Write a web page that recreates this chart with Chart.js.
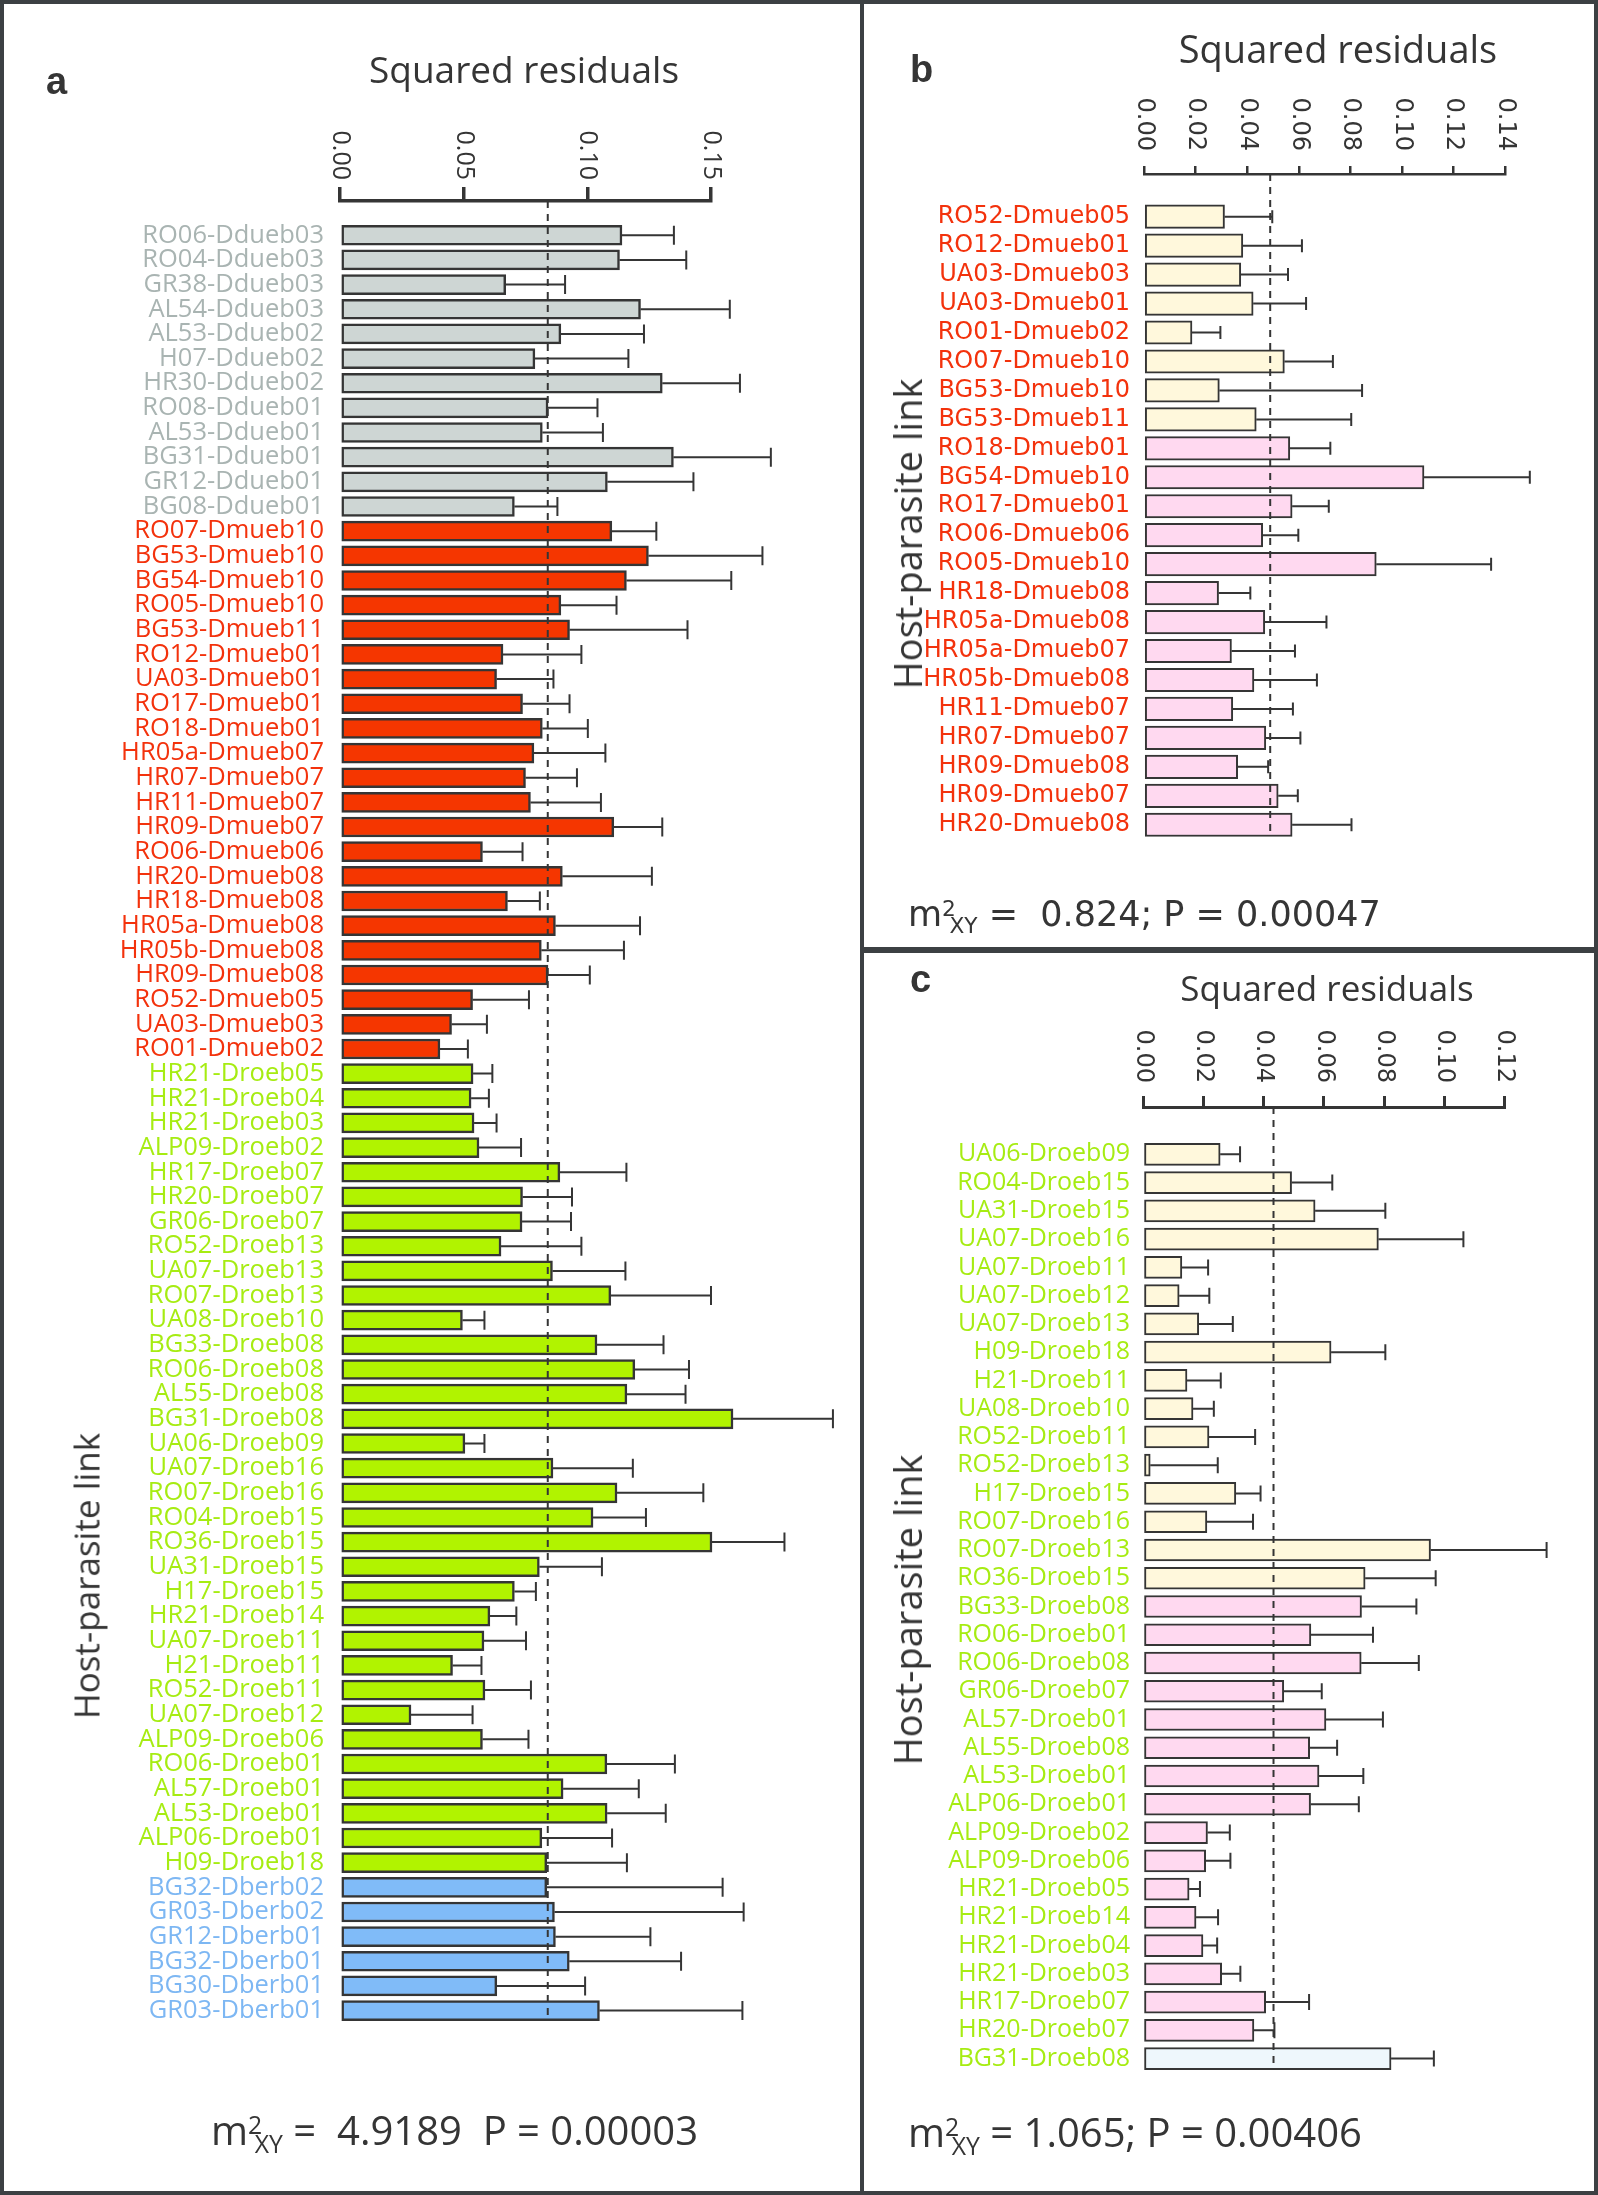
<!DOCTYPE html>
<html>
<head>
<meta charset="utf-8">
<script src="https://cdn.jsdelivr.net/npm/chart.js@4.4.0/dist/chart.umd.min.js"></script>
<style>
body { margin: 0; background: #fff; }
#fig { position: relative; width: 1598px; height: 2195px; background: #fff; overflow: hidden; font-family: 'Open Sans', sans-serif; color: #353535; }
canvas { position: absolute; }
.line { position: absolute; background: #3c4043; }
.txt { position: absolute; white-space: nowrap; line-height: 1; }
.sup { position: relative; top: -0.45em; font-size: 0.62em; }
.sub { position: relative; top: 0.32em; font-size: 0.62em; margin-left: -0.3em; }
</style>
</head>
<body>
<div id="fig">
  <canvas id="chartA" width="861" height="2195" style="left:0;top:0"></canvas>
  <canvas id="chartB" width="737" height="950" style="left:861px;top:0"></canvas>
  <canvas id="chartC" width="737" height="1243" style="left:861px;top:952px"></canvas>

  <div class="txt" style="left:46px;top:60px;font:bold 38px 'Liberation Sans',Arial,sans-serif;">a</div>
  <div class="txt" style="left:524px;top:50px;font-size:37px;transform:translateX(-50%);">Squared residuals</div>
  <div class="txt" style="left:86px;top:1576px;font-size:35px;transform:translate(-50%,-50%) rotate(-90deg);">Host-parasite link</div>
  <div class="txt" style="left:211px;top:2110px;font-size:40px;">m<span class="sup">2</span><span class="sub">XY</span> = &nbsp;4.9189 &nbsp;P = 0.00003</div>

  <div class="txt" style="left:910px;top:48px;font:bold 38px 'Liberation Sans',Arial,sans-serif;">b</div>
  <div class="txt" style="left:1338px;top:29px;font-size:38px;transform:translateX(-50%);">Squared residuals</div>
  <div class="txt" style="left:907px;top:534px;font-size:38px;transform:translate(-50%,-50%) rotate(-90deg);">Host-parasite link</div>
  <div class="txt" style="left:908px;top:897px;font-size:35px;font-family:'DejaVu Sans',sans-serif;">m<span class="sup">2</span><span class="sub">XY</span> = &nbsp;0.824; P = 0.00047</div>

  <div class="txt" style="left:910px;top:958px;font:bold 38px 'Liberation Sans',Arial,sans-serif;">c</div>
  <div class="txt" style="left:1327px;top:970px;font-size:35px;transform:translateX(-50%);">Squared residuals</div>
  <div class="txt" style="left:907px;top:1610px;font-size:38px;transform:translate(-50%,-50%) rotate(-90deg);">Host-parasite link</div>
  <div class="txt" style="left:908px;top:2112px;font-size:40px;">m<span class="sup">2</span><span class="sub">XY</span> = 1.065; P = 0.00406</div>

  <div class="line" style="left:0;top:0;width:1598px;height:4px"></div>
  <div class="line" style="left:0;top:2191px;width:1598px;height:4px"></div>
  <div class="line" style="left:0;top:0;width:4px;height:2195px"></div>
  <div class="line" style="left:1594px;top:0;width:4px;height:2195px"></div>
  <div class="line" style="left:860px;top:0;width:4px;height:2195px"></div>
  <div class="line" style="left:861px;top:947px;width:737px;height:6px"></div>
</div>

<script>
// panel a: all links
const aLabels = ["RO06-Ddueb03", "RO04-Ddueb03", "GR38-Ddueb03", "AL54-Ddueb03", "AL53-Ddueb02", "H07-Ddueb02",
  "HR30-Ddueb02", "RO08-Ddueb01", "AL53-Ddueb01", "BG31-Ddueb01", "GR12-Ddueb01", "BG08-Ddueb01",
  "RO07-Dmueb10", "BG53-Dmueb10", "BG54-Dmueb10", "RO05-Dmueb10", "BG53-Dmueb11", "RO12-Dmueb01",
  "UA03-Dmueb01", "RO17-Dmueb01", "RO18-Dmueb01", "HR05a-Dmueb07", "HR07-Dmueb07", "HR11-Dmueb07",
  "HR09-Dmueb07", "RO06-Dmueb06", "HR20-Dmueb08", "HR18-Dmueb08", "HR05a-Dmueb08", "HR05b-Dmueb08",
  "HR09-Dmueb08", "RO52-Dmueb05", "UA03-Dmueb03", "RO01-Dmueb02",
  "HR21-Droeb05", "HR21-Droeb04", "HR21-Droeb03", "ALP09-Droeb02", "HR17-Droeb07", "HR20-Droeb07",
  "GR06-Droeb07", "RO52-Droeb13", "UA07-Droeb13", "RO07-Droeb13", "UA08-Droeb10", "BG33-Droeb08",
  "RO06-Droeb08", "AL55-Droeb08", "BG31-Droeb08", "UA06-Droeb09", "UA07-Droeb16", "RO07-Droeb16",
  "RO04-Droeb15", "RO36-Droeb15", "UA31-Droeb15", "H17-Droeb15", "HR21-Droeb14", "UA07-Droeb11",
  "H21-Droeb11", "RO52-Droeb11", "UA07-Droeb12", "ALP09-Droeb06", "RO06-Droeb01", "AL57-Droeb01",
  "AL53-Droeb01", "ALP06-Droeb01", "H09-Droeb18",
  "BG32-Dberb02", "GR03-Dberb02", "GR12-Dberb01", "BG32-Dberb01", "BG30-Dberb01", "GR03-Dberb01"];
const aValues = [0.114, 0.113, 0.067, 0.1215, 0.0893, 0.0788, 0.1303, 0.0841, 0.0818, 0.1348, 0.1081, 0.0705,
  0.1099, 0.1247, 0.1158, 0.0893, 0.0928, 0.0659, 0.0633, 0.0738, 0.0818, 0.0784, 0.075, 0.077,
  0.1107, 0.0576, 0.0899, 0.0677, 0.0871, 0.0814, 0.0841, 0.0536, 0.0451, 0.0404,
  0.0538, 0.053, 0.0542, 0.0562, 0.0889, 0.0738, 0.0736, 0.0651, 0.0859, 0.1095, 0.0495, 0.1039,
  0.1192, 0.116, 0.1589, 0.0505, 0.0861, 0.112, 0.1023, 0.1504, 0.0806, 0.0705, 0.0606, 0.0582,
  0.0455, 0.0586, 0.0287, 0.0576, 0.1079, 0.0902, 0.108, 0.0816, 0.0836,
  0.0836, 0.0867, 0.0871, 0.0927, 0.0634, 0.1049];
const aUpper = [0.135, 0.140, 0.091, 0.1576, 0.1229, 0.1166, 0.1617, 0.1041, 0.1063, 0.1742, 0.1429, 0.0879,
  0.1279, 0.1708, 0.1582, 0.1118, 0.1405, 0.0976, 0.0863, 0.0928, 0.1002, 0.1073, 0.0958, 0.1055,
  0.1303, 0.0738, 0.1261, 0.0808, 0.1213, 0.1148, 0.101, 0.0764, 0.0594, 0.0517,
  0.0616, 0.0602, 0.0633, 0.0732, 0.1158, 0.0938, 0.0934, 0.0976, 0.1154, 0.150, 0.0584, 0.1308,
  0.1411, 0.1397, 0.1993, 0.0584, 0.1184, 0.1469, 0.1237, 0.1797, 0.1059, 0.0792, 0.0713, 0.0752,
  0.0572, 0.0772, 0.0536, 0.0762, 0.1354, 0.1208, 0.1317, 0.110, 0.116,
  0.1547, 0.1632, 0.1255, 0.1379, 0.0991, 0.1627];
const aTicks = [0, 0.05, 0.10, 0.15];
const aTickText = ["0.00", "0.05", "0.10", "0.15"];
const aCutoff = 0.084;

// panel b: Dmueb links
const bLabels = ["RO52-Dmueb05", "RO12-Dmueb01", "UA03-Dmueb03", "UA03-Dmueb01", "RO01-Dmueb02", "RO07-Dmueb10",
  "BG53-Dmueb10", "BG53-Dmueb11", "RO18-Dmueb01", "BG54-Dmueb10", "RO17-Dmueb01", "RO06-Dmueb06",
  "RO05-Dmueb10", "HR18-Dmueb08", "HR05a-Dmueb08", "HR05a-Dmueb07", "HR05b-Dmueb08", "HR11-Dmueb07",
  "HR07-Dmueb07", "HR09-Dmueb08", "HR09-Dmueb07", "HR20-Dmueb08"];
const bValues = [0.0312, 0.0383, 0.0375, 0.0423, 0.0186, 0.0544, 0.0292, 0.0435, 0.0565, 0.1085, 0.0574, 0.046,
  0.090, 0.0289, 0.0468, 0.0339, 0.0426, 0.0344, 0.0472, 0.0363, 0.052, 0.0574];
const bUpper = [0.0497, 0.0612, 0.0558, 0.0628, 0.0296, 0.0732, 0.0845, 0.0803, 0.0722, 0.1495, 0.0716, 0.0598,
  0.1345, 0.0412, 0.0707, 0.0585, 0.067, 0.0577, 0.0606, 0.0481, 0.0596, 0.0804];
const bGroups = ["y", "y", "y", "y", "y", "y", "y", "y", "p", "p", "p", "p", "p", "p", "p", "p", "p", "p", "p", "p", "p", "p"];
const bTicks = [0, 0.02, 0.04, 0.06, 0.08, 0.10, 0.12, 0.14];
const bTickText = ["0.00", "0.02", "0.04", "0.06", "0.08", "0.10", "0.12", "0.14"];
const bCutoff = 0.0489;

// panel c: Droeb links
const cLabels = ["UA06-Droeb09", "RO04-Droeb15", "UA31-Droeb15", "UA07-Droeb16", "UA07-Droeb11", "UA07-Droeb12",
  "UA07-Droeb13", "H09-Droeb18", "H21-Droeb11", "UA08-Droeb10", "RO52-Droeb11", "RO52-Droeb13",
  "H17-Droeb15", "RO07-Droeb16", "RO07-Droeb13", "RO36-Droeb15", "BG33-Droeb08", "RO06-Droeb01",
  "RO06-Droeb08", "GR06-Droeb07", "AL57-Droeb01", "AL55-Droeb08", "AL53-Droeb01", "ALP06-Droeb01",
  "ALP09-Droeb02", "ALP09-Droeb06", "HR21-Droeb05", "HR21-Droeb14", "HR21-Droeb04", "HR21-Droeb03",
  "HR17-Droeb07", "HR20-Droeb07", "BG31-Droeb08"];
const cValues = [0.0256, 0.0493, 0.0571, 0.0781, 0.0129, 0.012, 0.0185, 0.0624, 0.0146, 0.0166, 0.0219, 0.0024,
  0.0308, 0.0212, 0.0954, 0.0737, 0.0725, 0.0557, 0.0724, 0.0467, 0.0607, 0.0553, 0.0584, 0.0556,
  0.0214, 0.0208, 0.0153, 0.0176, 0.0199, 0.0261, 0.0407, 0.0368, 0.0823];
const cUpper = [0.0322, 0.0628, 0.0804, 0.1063, 0.0216, 0.022, 0.0298, 0.0804, 0.0258, 0.0235, 0.0372, 0.0248,
  0.039, 0.0365, 0.1339, 0.0971, 0.0907, 0.0763, 0.0915, 0.0593, 0.0796, 0.0644, 0.0731, 0.0716,
  0.0288, 0.029, 0.0189, 0.0249, 0.0246, 0.0323, 0.0551, 0.0436, 0.0965];
const cGroups = ["y", "y", "y", "y", "y", "y", "y", "y", "y", "y", "y", "y", "y", "y", "y", "y",
  "p", "p", "p", "p", "p", "p", "p", "p", "p", "p", "p", "p", "p", "p", "p", "p", "l"];
const cTicks = [0, 0.02, 0.04, 0.06, 0.08, 0.10, 0.12];
const cTickText = ["0.00", "0.02", "0.04", "0.06", "0.08", "0.10", "0.12"];
const cCutoff = 0.0433;

const ink = "#353535";
const speciesText = { Ddueb: "#a9b4b2", Dmueb: "#f3320c", Droeb: "#a6ec12", Dberb: "#7db7f3" };
const speciesFill = { Ddueb: "#ced6d4", Dmueb: "#f53600", Droeb: "#b1f300", Dberb: "#80bbf8" };
const groupFill = { y: "#fff8dc", p: "#ffd9f0", l: "#eef7fc" };

function species(label) {
  return label.split("-")[1].slice(0, 5);
}

// error bars, cutoff line and rotated x tick labels
const extras = {
  id: "extras",
  afterDatasetsDraw(chart, args, o) {
    let ctx = chart.ctx;
    let x = chart.scales.x;
    let y = chart.scales.y;
    let bars = chart.getDatasetMeta(0).data;
    ctx.save();
    ctx.strokeStyle = ink;
    ctx.lineWidth = 2;
    bars.forEach((bar, i) => {
      let xe = x.getPixelForValue(o.upper[i]);
      ctx.beginPath();
      ctx.moveTo(bar.x, bar.y);
      ctx.lineTo(xe, bar.y);
      ctx.moveTo(xe, bar.y - o.cap / 2);
      ctx.lineTo(xe, bar.y + o.cap / 2);
      ctx.stroke();
    });
    let xc = x.getPixelForValue(o.cutoff);
    ctx.setLineDash([7, 6]);
    ctx.beginPath();
    ctx.moveTo(xc, chart.chartArea.top);
    ctx.lineTo(xc, y.getPixelForValue(bars.length - 1) + o.barH / 2);
    ctx.stroke();
    ctx.restore();
  },
  afterDraw(chart, args, o) {
    let ctx = chart.ctx;
    let x = chart.scales.x;
    ctx.save();
    ctx.fillStyle = ink;
    ctx.font = o.tickFont;
    ctx.textAlign = "right";
    ctx.textBaseline = "middle";
    x.ticks.forEach((t, i) => {
      ctx.save();
      ctx.translate(x.getPixelForValue(t.value), chart.chartArea.top - o.tickLen - o.gap);
      ctx.rotate(Math.PI / 2);
      ctx.fillText(o.tickText[i], 0, 0);
      ctx.restore();
    });
    ctx.restore();
  }
};

function makeChart(id, p) {
  new Chart(document.getElementById(id), {
    type: "bar",
    data: {
      labels: p.labels,
      datasets: [{
        data: p.values.map((v, i) => ({ x: v, y: i })),
        backgroundColor: p.fills,
        borderColor: ink,
        borderWidth: p.bw,
        borderSkipped: false,
        barThickness: p.barH,
        clip: false
      }]
    },
    options: {
      indexAxis: "y",
      responsive: false,
      animation: false,
      devicePixelRatio: 1,
      layout: { padding: { left: 0, top: 0, right: p.padR, bottom: p.padB } },
      plugins: {
        legend: { display: false },
        tooltip: { enabled: false },
        extras: { upper: p.upper, cutoff: p.cutoff, cap: p.cap, barH: p.barH,
          tickText: p.tickText, tickFont: p.tickFont, tickLen: p.tickLen, gap: p.gap }
      },
      scales: {
        x: {
          type: "linear",
          position: "top",
          min: 0,
          max: p.ticks[p.ticks.length - 1],
          afterBuildTicks: s => { s.ticks = p.ticks.map(v => ({ value: v })); },
          afterFit: s => { s.height = p.axisH; },
          ticks: { display: false },
          grid: { drawOnChartArea: false, drawTicks: true, tickLength: p.tickLen, color: ink, lineWidth: p.axisW },
          border: { display: true, color: ink, width: p.axisW }
        },
        y: {
          type: "linear",
          reverse: true,
          min: p.yMin,
          max: p.labels.length - 0.5,
          afterBuildTicks: s => { s.ticks = p.labels.map((l, i) => ({ value: i })); },
          afterFit: s => { s.width = p.axisLeft; },
          grid: { display: false },
          border: { display: false },
          ticks: {
            autoSkip: false,
            padding: p.labelPad,
            font: p.labelFont,
            color: c => p.labelColors[c.index],
            callback: (v, i) => p.labels[i]
          }
        }
      }
    },
    plugins: [extras]
  });
}

makeChart("chartA", {
  labels: aLabels, values: aValues, upper: aUpper, ticks: aTicks, tickText: aTickText, cutoff: aCutoff,
  fills: aLabels.map(l => speciesFill[species(l)]),
  labelColors: aLabels.map(l => speciesText[species(l)]),
  labelFont: { family: "'Open Sans', sans-serif", size: 25.5 },
  tickFont: "25px 'Open Sans', sans-serif",
  axisLeft: 340, axisH: 201, padR: 150, padB: 159.5, yMin: -0.88,
  barH: 20, cap: 19, bw: 2.5, axisW: 3.5, tickLen: 14, gap: 7, labelPad: 8
});

makeChart("chartB", {
  labels: bLabels, values: bValues, upper: bUpper, ticks: bTicks, tickText: bTickText, cutoff: bCutoff,
  fills: bGroups.map(g => groupFill[g]),
  labelColors: bLabels.map(l => speciesText[species(l)]),
  labelFont: { family: "'DejaVu Sans', sans-serif", size: 24 },
  tickFont: "24px 'DejaVu Sans', sans-serif",
  axisLeft: 283, axisH: 174, padR: 92.7, padB: 95.3, yMin: -0.94,
  barH: 23.5, cap: 13, bw: 2, axisW: 2.5, tickLen: 8, gap: 15, labelPad: 6
});

makeChart("chartC", {
  labels: cLabels, values: cValues, upper: cUpper, ticks: cTicks, tickText: cTickText, cutoff: cCutoff,
  fills: cGroups.map(g => groupFill[g]),
  labelColors: cLabels.map(l => speciesText[species(l)]),
  labelFont: { family: "'Open Sans', sans-serif", size: 25 },
  tickFont: "24px 'DejaVu Sans', sans-serif",
  axisLeft: 282, axisH: 155, padR: 93.3, padB: 107.4, yMin: -1.15,
  barH: 22, cap: 16, bw: 2, axisW: 3, tickLen: 11, gap: 13, labelPad: 5
});
</script>
</body>
</html>
